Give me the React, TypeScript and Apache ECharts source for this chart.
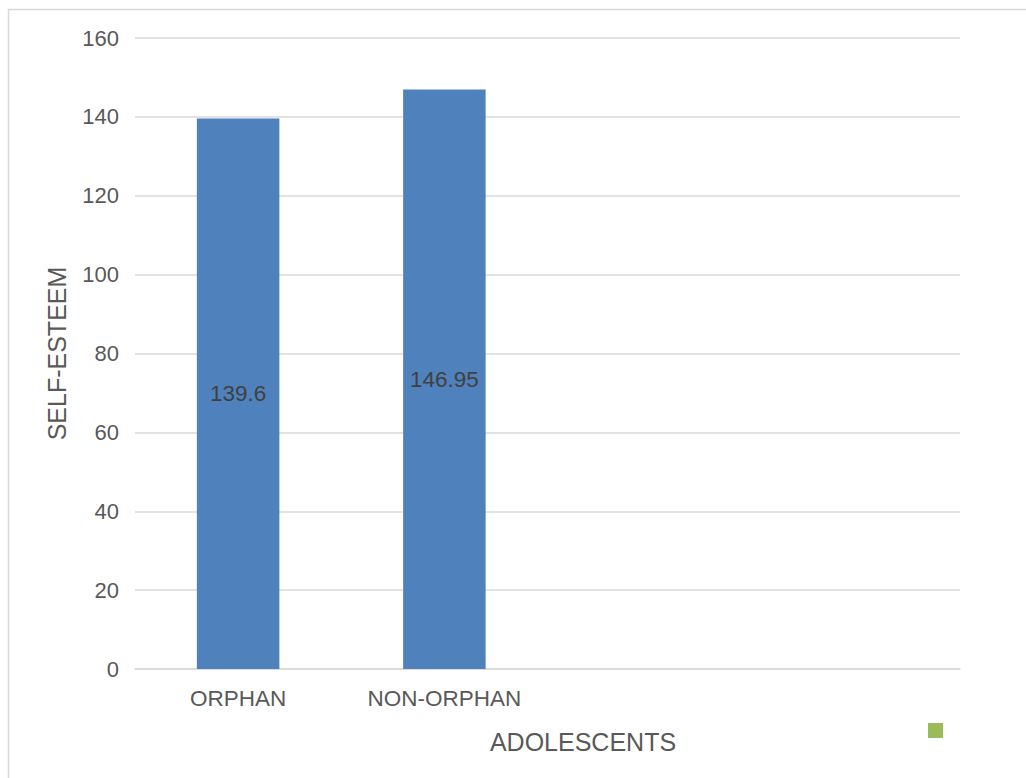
import React, { useEffect, useRef } from "react";
import * as echarts from "echarts";

const categories = ["ORPHAN", "NON-ORPHAN", "", ""];
const selfEsteem = [139.6, 146.95, null, null];
const yTicks = { min: 0, max: 160, interval: 20 };
const xTitle = "ADOLESCENTS";
const yTitle = "SELF-ESTEEM";

const FONT = "Liberation Sans, Arial, sans-serif";

export default function App() {
  const ref = useRef<HTMLDivElement>(null);
  useEffect(() => {
    if (!ref.current) return;
    const chart = echarts.init(ref.current, undefined, { renderer: "svg" });
    chart.setOption({
      animation: false,
      backgroundColor: "#ffffff",
      textStyle: { fontFamily: FONT },
      grid: { left: 135, right: 66, top: 38, bottom: 109, containLabel: false },
      legend: {
        left: 928,
        top: 723,
        padding: 0,
        itemWidth: 15,
        itemHeight: 15,
        icon: "rect",
        data: [{ name: " " }],
        formatter: () => "",
        textStyle: { fontSize: 1 },
        selectedMode: false,
      },
      graphic: [
        {
          type: "rect",
          shape: { x: 8.5, y: 9.5, width: 1040, height: 800 },
          style: { fill: "none", stroke: "#d9d9d9", lineWidth: 1.5 },
          silent: true,
        },
        {
          type: "text",
          x: 583,
          y: 742,
          style: {
            text: xTitle,
            fontSize: 25,
            fontFamily: FONT,
            fill: "#595959",
            align: "center",
            verticalAlign: "middle",
          },
        },
      ],
      xAxis: {
        type: "category",
        data: categories,
        axisLine: { show: true, lineStyle: { color: "#d9d9d9", width: 1.5 } },
        axisTick: { show: false },
        axisLabel: { color: "#595959", fontSize: 22.5, margin: 18, fontFamily: FONT },
      },
      yAxis: {
        type: "value",
        min: yTicks.min,
        max: yTicks.max,
        interval: yTicks.interval,
        name: yTitle,
        nameLocation: "middle",
        nameGap: 66,
        nameTextStyle: { color: "#595959", fontSize: 25, fontFamily: FONT },
        axisLine: { show: false },
        axisTick: { show: false },
        axisLabel: { color: "#595959", fontSize: 22, margin: 16, fontFamily: FONT },
        splitLine: { lineStyle: { color: "#d9d9d9", width: 1.5 } },
      },
      series: [
        {
          type: "bar",
          name: "Self-esteem",
          data: selfEsteem,
          barWidth: "40%",
          itemStyle: { color: "#4f81bd" },
          label: {
            show: true,
            position: "inside",
            color: "#404040",
            fontSize: 22.5,
            fontFamily: FONT,
          },
        },
        {
          type: "line",
          name: " ",
          data: [],
          itemStyle: { color: "#9bbb59" },
          lineStyle: { color: "#9bbb59" },
        },
      ],
    });
    return () => chart.dispose();
  }, []);
  return (
    <div
      ref={ref}
      style={{ position: "fixed", left: 0, top: 0, width: 1026, height: 778 }}
    />
  );
}
